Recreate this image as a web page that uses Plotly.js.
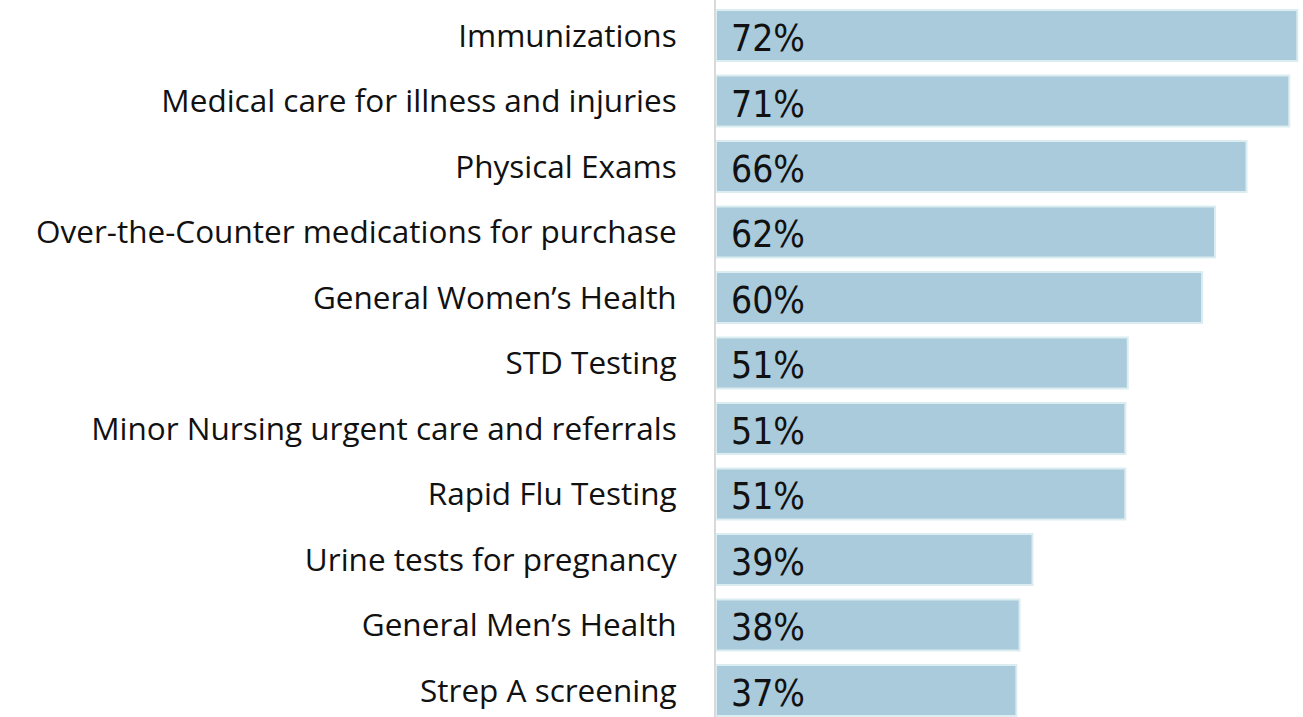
<!DOCTYPE html>
<html><head><meta charset="utf-8">
<script src="https://cdn.plot.ly/plotly-3.0.1.min.js"></script>
<style>html,body{margin:0;padding:0;background:#fff}#c{width:1303px;height:717px}</style>
</head><body><div id="c"></div>
<script>
const categories = ["Immunizations","Medical care for illness and injuries","Physical Exams","Over-the-Counter medications for purchase","General Women’s Health","STD Testing","Minor Nursing urgent care and referrals","Rapid Flu Testing","Urine tests for pregnancy","General Men’s Health","Strep A screening"];
const values = [72, 71, 65.7, 61.8, 60.2, 51.0, 50.7, 50.7, 39.2, 37.6, 37.2];
const labels = ["72%","71%","66%","62%","60%","51%","51%","51%","39%","38%","37%"];

const trace = {
  type: 'bar', orientation: 'h',
  x: values, y: categories,
  marker: {color: '#a9cbdb', line: {color: '#dcedf2', width: 2}},
  hoverinfo: 'none'
};
const annotations = categories.map((c, i) => ({
  x: 0, y: c, xref: 'x', yref: 'y', text: labels[i], showarrow: false,
  xanchor: 'left', xshift: 13, yshift: -3,
  font: {family: 'Liberation Sans Narrow, Arial Narrow, DejaVu Sans Condensed, sans-serif', size: 37, color: '#111'}
}));
const layout = {
  width: 1303, height: 717,
  margin: {l: 716, r: 0, t: 0, b: 0, pad: 0},
  paper_bgcolor: '#fff', plot_bgcolor: '#fff',
  showlegend: false, bargap: 0.22,
  xaxis: {range: [0, 72.7], showgrid: false, zeroline: false, showticklabels: false, ticks: '', fixedrange: true},
  yaxis: {type: 'category', range: [10.405, -0.542], showgrid: false, zeroline: false,
          showline: true, linecolor: '#d9d9d9', linewidth: 2, ticks: '', ticklabelstandoff: 31,
          tickfont: {family: 'Open Sans, sans-serif', size: 31.5, color: '#111'}},
  annotations: annotations
};
Plotly.newPlot('c', [trace], layout, {staticPlot: true, displayModeBar: false});
</script></body></html>
